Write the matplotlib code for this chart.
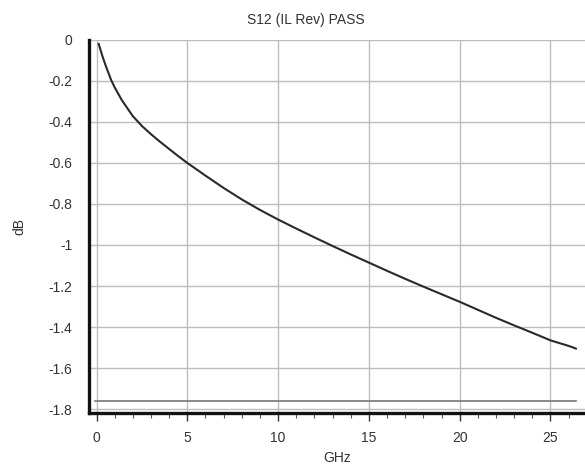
import numpy as np
import matplotlib
matplotlib.use('Agg')
import matplotlib.pyplot as plt
from matplotlib.ticker import MultipleLocator

# S12 insertion loss (reverse)
freq_ghz = [0.12, 0.3, 0.5, 0.8, 1.0, 1.4, 2.0, 2.5, 3.0, 3.5, 4.0, 4.5, 5.0,
            6, 7, 8, 9, 10, 11, 12, 13, 14, 15, 16, 17, 18, 19, 20, 21, 22,
            23, 24, 25, 26, 26.4]
s12_db = [-0.02, -0.073, -0.125, -0.195, -0.232, -0.295, -0.372, -0.42,
          -0.46, -0.497, -0.532, -0.567, -0.60,
          -0.662, -0.722, -0.778, -0.829, -0.876, -0.92, -0.963, -1.005,
          -1.046, -1.086, -1.126, -1.165, -1.203, -1.24, -1.277, -1.316,
          -1.355, -1.392, -1.428, -1.465, -1.492, -1.505]
limit_db = -1.76
limit_x = [-0.1, 26.4]

plt.rcParams['font.family'] = ['Liberation Sans', 'DejaVu Sans']

fig = plt.figure(figsize=(5.85, 4.69), dpi=100)
ax = fig.add_axes([0.152, 0.119, 0.848, 0.796])

ax.plot(freq_ghz, s12_db, color='#2a2a2a', lw=1.5, solid_joinstyle='round')
ax.plot(limit_x, [limit_db, limit_db], color='#777777', lw=1.2)

ax.set_xlim(-0.42, 26.9)
ax.set_ylim(-1.82, 0.0)
ax.xaxis.set_major_locator(MultipleLocator(5))
ax.xaxis.set_minor_locator(MultipleLocator(1))
ax.set_yticks(np.arange(0, -1.81, -0.2))
ax.set_yticklabels(['0', '-0.2', '-0.4', '-0.6', '-0.8', '-1', '-1.2', '-1.4', '-1.6', '-1.8'])

ax.grid(True, which='major', color='#bdbdbd', lw=1.0)
ax.set_axisbelow(True)
for s in ['top', 'right']:
    ax.spines[s].set_visible(False)
for s in ['left', 'bottom']:
    ax.spines[s].set_linewidth(2.4)
    ax.spines[s].set_color('#111111')

ax.tick_params(axis='y', length=0, labelsize=10, pad=12, colors='#333333')
ax.tick_params(axis='x', which='major', length=6, width=1.0, labelsize=10, pad=7, colors='#333333')
ax.tick_params(axis='x', which='minor', length=3.5, width=0.8, colors='#555555')

ax.set_xlabel('GHz', fontsize=10, color='#333333', labelpad=4)
ax.set_ylabel('dB', fontsize=10, color='#333333', labelpad=16)
fig.text(0.523, 0.957, 'S12 (IL Rev) PASS', ha='center', va='center', fontsize=10, color='#333333')

fig.savefig('out.png', dpi=100)
